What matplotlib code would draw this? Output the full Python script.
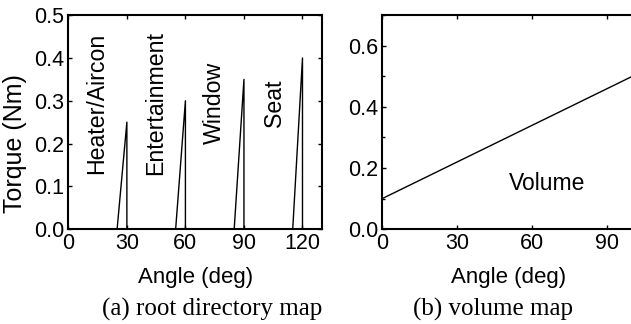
import matplotlib
matplotlib.use("Agg")
import matplotlib.pyplot as plt
from matplotlib.ticker import MultipleLocator, FormatStrFormatter

# (a) root directory map: torque spikes, one per menu entry
menu_names = ["Heater/Aircon", "Entertainment", "Window", "Seat"]
spike_end_deg = [30, 60, 90, 120]
spike_start_deg = [25, 55, 85, 115]
spike_torque = [0.25, 0.30, 0.35, 0.40]
label_x_deg = [14.6, 44.7, 74.6, 105.6]  # where the rotated labels sit

# (b) volume map: linear torque ramp
volume_angle = [0, 100]
volume_torque = [0.10, 0.50]

plt.rcParams["font.family"] = ["Liberation Sans", "DejaVu Sans"]

fig = plt.figure(figsize=(6.31, 3.24), dpi=100)
ax1 = fig.add_axes([0.1083, 0.293, 0.402, 0.660])
ax2 = fig.add_axes([0.606, 0.293, 0.404, 0.660])

for ax in (ax1, ax2):
    for sp in ax.spines.values():
        sp.set_linewidth(1.5)
    ax.tick_params(which="both", direction="in", top=True, right=True,
                   width=1.0, labelsize=15.5, pad=3)
    ax.tick_params(which="major", length=3)
    ax.tick_params(which="minor", length=2.5)

# left panel
for x0, x1, t in zip(spike_start_deg, spike_end_deg, spike_torque):
    ax1.plot([x0, x1, x1], [0, t, 0], color="black", lw=1.0)
for name, xl in zip(menu_names, label_x_deg):
    ax1.text(xl, 0.295, name, rotation=90, ha="center", va="center", fontsize=16.7)
ax1.set_xlim(0, 130)
ax1.set_ylim(0, 0.5)
ax1.xaxis.set_major_locator(MultipleLocator(30))
ax1.yaxis.set_major_locator(MultipleLocator(0.1))
ax1.yaxis.set_major_formatter(FormatStrFormatter("%.1f"))
ax1.set_xlabel("Angle (deg)", fontsize=16)
ax1.xaxis.set_label_coords(0.5, -0.252)
ax1.xaxis.label.set_va("baseline")
ax1.set_ylabel("Torque (Nm)", fontsize=18)
ax1.yaxis.set_label_coords(-0.21, 0.40)
ax1.yaxis.label.set_va("center")

# right panel (right spine falls just outside the figure, as in the original)
ax2.plot(volume_angle, volume_torque, color="black", lw=1.0)
ax2.text(66, 0.15, "Volume", ha="center", va="center", fontsize=16.5)
ax2.set_xlim(0, 102)
ax2.set_ylim(0, 0.7)
ax2.xaxis.set_major_locator(MultipleLocator(30))
ax2.yaxis.set_major_locator(MultipleLocator(0.2))
ax2.yaxis.set_minor_locator(MultipleLocator(0.1))
ax2.yaxis.set_major_formatter(FormatStrFormatter("%.1f"))
ax2.set_xlabel("Angle (deg)", fontsize=16)
ax2.xaxis.set_label_coords(0.493, -0.252)
ax2.xaxis.label.set_va("baseline")

# captions
fig.text(212 / 631, 8 / 324, "(a) root directory map", ha="center", va="baseline",
         fontsize=18, family="Liberation Serif")
fig.text(493 / 631, 8 / 324, "(b) volume map", ha="center", va="baseline",
         fontsize=18, family="Liberation Serif")

fig.savefig("out.png", dpi=100)
